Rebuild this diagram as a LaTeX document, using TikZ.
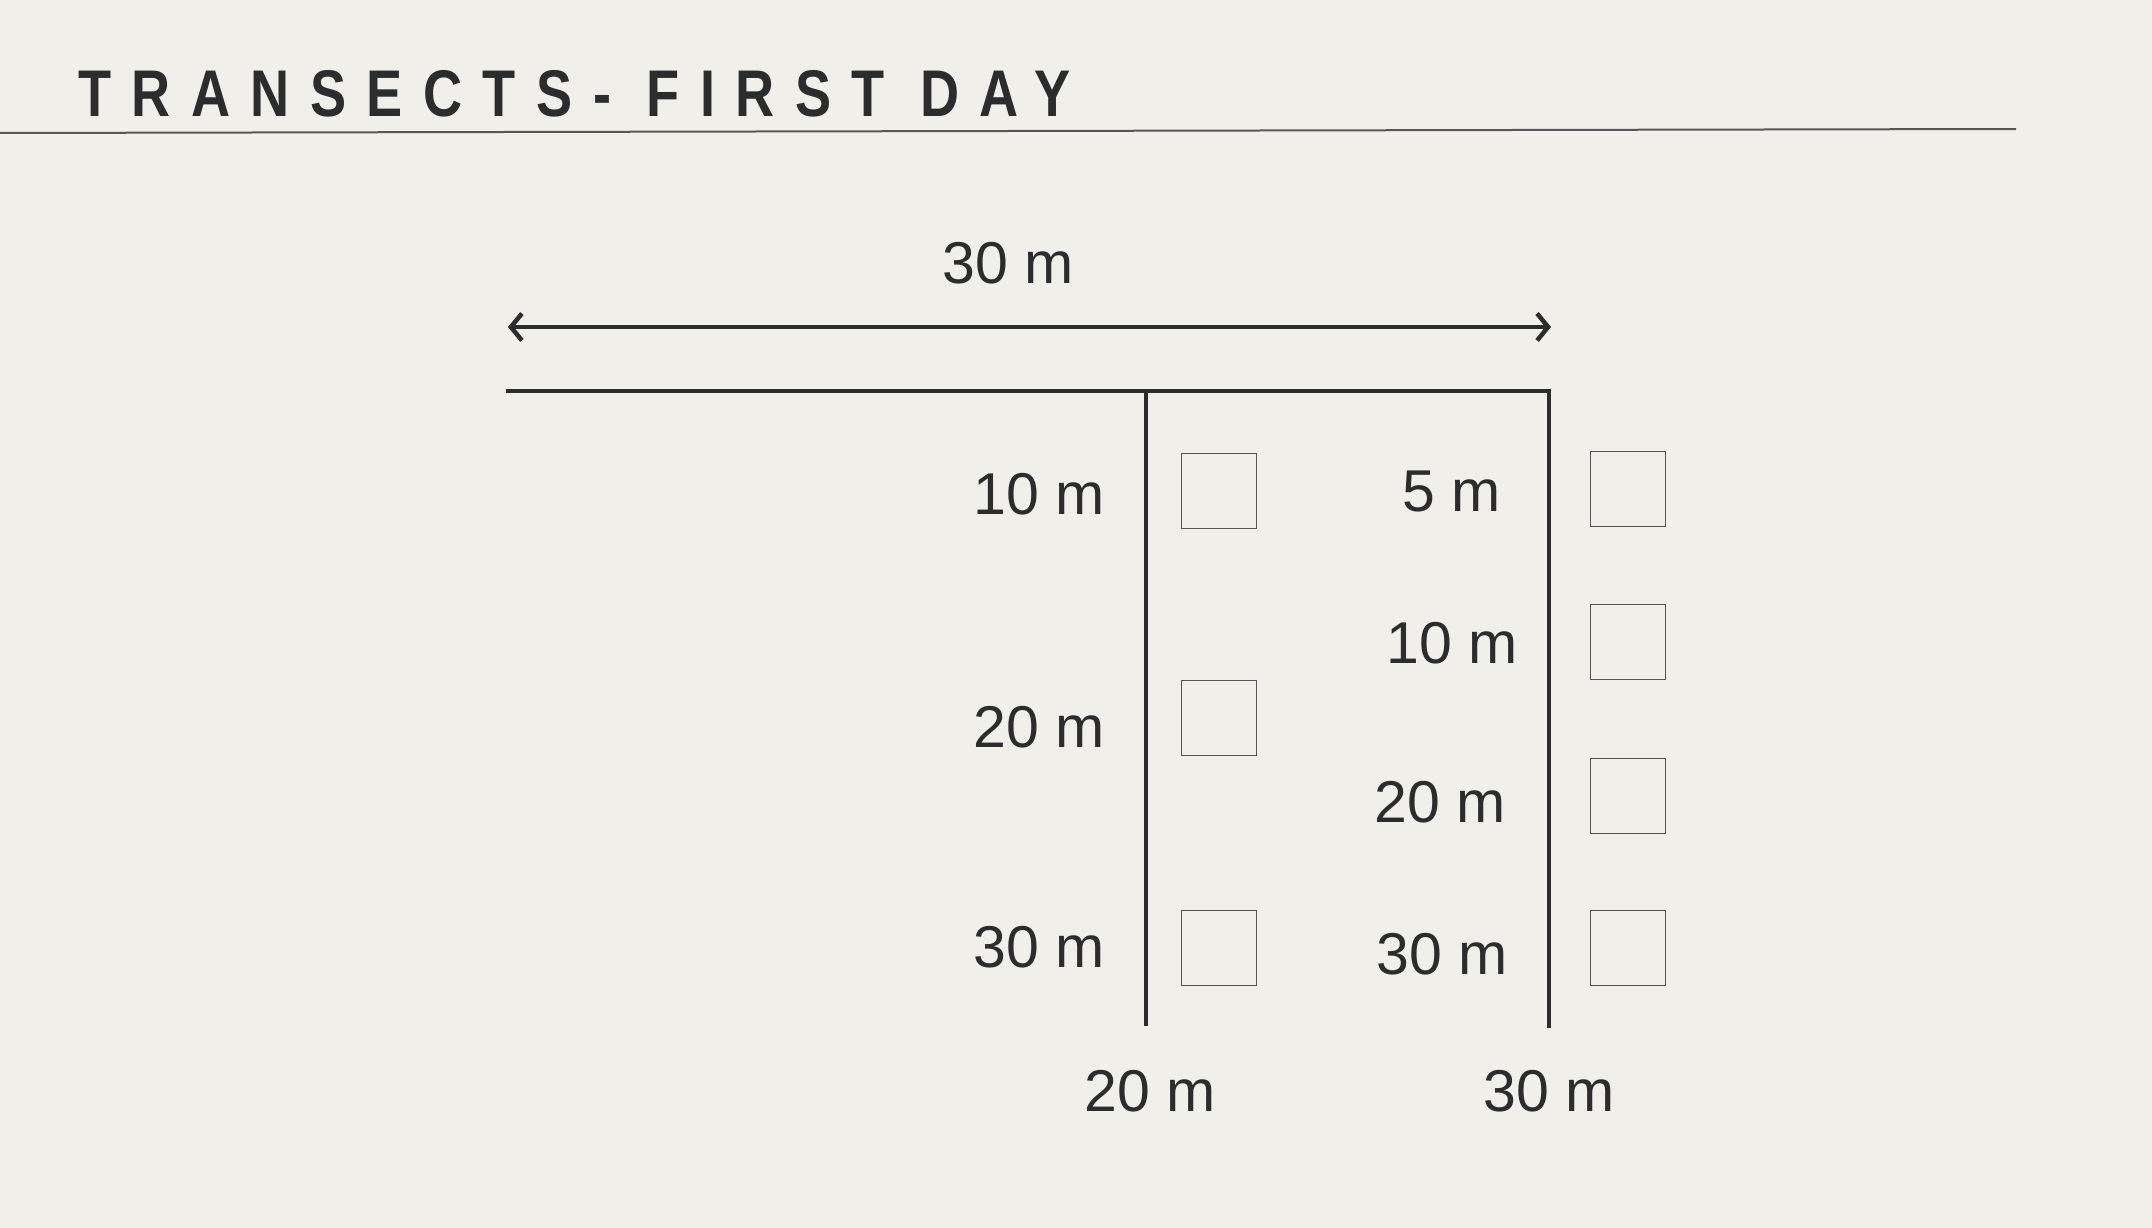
\documentclass[tikz,border=0pt]{standalone}
\usepackage{fontspec}
\setmainfont{Liberation Sans}
\newfontfamily\titlefont[FakeStretch=0.82,LetterSpace=31]{Liberation Sans Bold}
\usetikzlibrary{arrows.meta}
\definecolor{bg}{HTML}{F0EFEA}
\definecolor{ink}{HTML}{2B2C2E}
\definecolor{boxc}{HTML}{555555}
\begin{document}
\begin{tikzpicture}[x=1pt,y=-1pt,
  lab/.style={inner sep=0pt,text=ink,font=\fontsize{59}{63}\selectfont},
  quad/.style={draw=boxc,line width=1.4pt,minimum size=75pt,inner sep=0pt,anchor=north west},
  tline/.style={draw=ink,line width=4.8pt},
]
\path[fill=bg] (0,0) rectangle (2152,1228);
\useasboundingbox (0,0) rectangle (2152,1228);
% title
\node[inner sep=0pt,anchor=base west,text=ink,font=\titlefont\fontsize{66}{70}\selectfont] (title) at (78,117) {TRANSECTS- FIRST DAY};
\coordinate (hl1) at (0,133);
\coordinate (hl2) at (2016,129);
\draw[draw=ink!80,line width=2pt] (hl1) -- (hl2);
% dimension arrow
\coordinate (a1) at (508,327);
\coordinate (a2) at (1551,327);
\draw[tline,{Straight Barb[length=11pt,width=27pt,line width=4.5pt]}-{Straight Barb[length=11pt,width=27pt,line width=4.5pt]}] (a1) -- (a2);
\node[lab,anchor=base] (top) at (1008,283) {30 m};
% transect lines
\coordinate (h1) at (508,391);
\coordinate (h2) at (1549,391);
\coordinate (v1t) at (1146,391);
\coordinate (v1b) at (1146,1026);
\coordinate (v2b) at (1549,1026);
\draw[tline,line cap=rect] (h1) -- (h2) -- (v2b);
\draw[tline] (v1t) -- (v1b);
% left column
\node[lab,anchor=base east] (l10) at (1105,514) {10 m};
\node[lab,anchor=base east] (l20) at (1105,747) {20 m};
\node[lab,anchor=base east] (l30) at (1105,967) {30 m};
\node[quad] (q1) at (1181,453) {};
\node[quad] (q2) at (1181,680) {};
\node[quad] (q3) at (1181,910) {};
% right column
\node[lab,anchor=base east] (r5) at (1501,511) {5 m};
\node[lab,anchor=base east] (r10) at (1518,663) {10 m};
\node[lab,anchor=base east] (r20) at (1506,822) {20 m};
\node[lab,anchor=base east] (r30) at (1508,974) {30 m};
\node[quad] (p1) at (1590,451) {};
\node[quad] (p2) at (1590,604) {};
\node[quad] (p3) at (1590,758) {};
\node[quad] (p4) at (1590,910) {};
% bottom labels
\node[lab,anchor=base] (b20) at (1150,1111) {20 m};
\node[lab,anchor=base] (b30) at (1549,1111) {30 m};
\end{tikzpicture}
\end{document}
